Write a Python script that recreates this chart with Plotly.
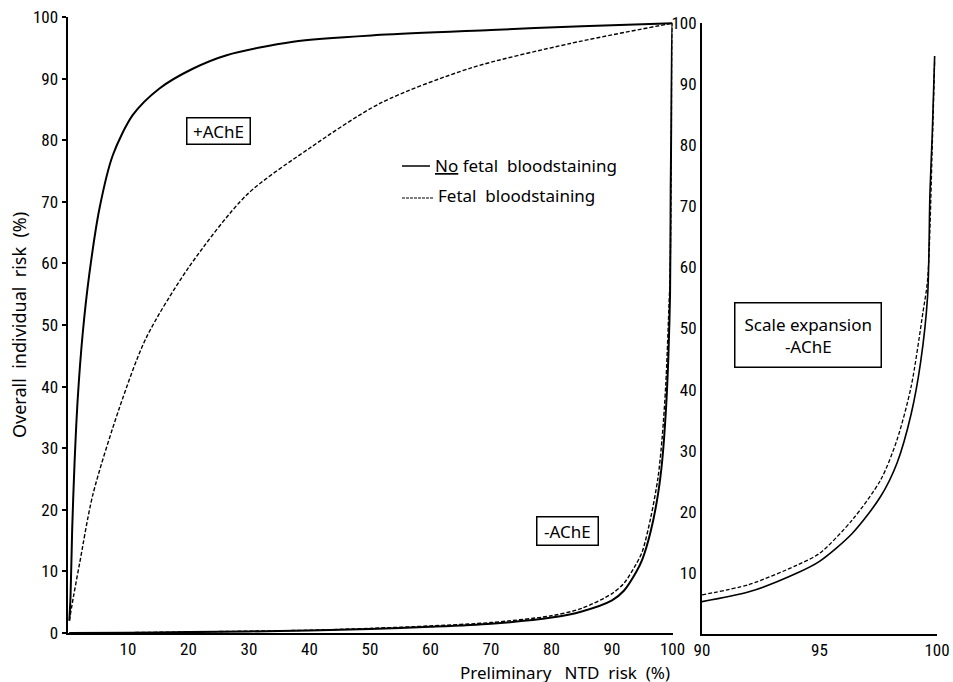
import plotly.graph_objects as go

W, H = 953, 682          # browser window == figure size (page margin removed below)

# ---------------- data ----------------
# +AChE, no fetal bloodstaining (solid)
pos_nofbs_x = [0.3, 0.5, 0.77, 1.16, 1.7, 2.5, 3.6, 5.3, 7.5, 10.8, 15.2, 20.7, 26.3, 37.3, 51.7, 70, 85, 100]
pos_nofbs_y = [2, 5.9, 16.7, 27.5, 38.2, 48.5, 58.2, 69.0, 77.6, 84.1, 88.4, 91.6, 93.8, 96.0, 97.1, 97.9, 98.5, 99]

# +AChE, fetal bloodstaining (dashed)
pos_fbs_x = [0.3, 1.0, 2.0, 4.2, 8.6, 13.0, 20, 29.6, 40, 51.7, 66.6, 83.1, 100]
pos_fbs_y = [2, 6, 11.3, 22.5, 36.6, 47.9, 59.3, 71.1, 78.7, 86.0, 91.7, 95.7, 99]

# -AChE, no fetal bloodstaining (solid)
neg_nofbs_x = [0.3, 10, 20, 30, 40, 50, 60, 70, 80, 85, 90, 92, 94, 95, 96.4, 97.6, 98.3, 98.9, 99.3, 99.6, 99.7, 99.8, 99.9, 100]
neg_nofbs_y = [0, 0.05, 0.15, 0.25, 0.4, 0.65, 1.0, 1.5, 2.5, 3.5, 5.3, 6.9, 9.9, 11.9, 16.5, 22.5, 28, 36, 44.4, 55.3, 72.2, 82, 94.6, 99]

# -AChE, fetal bloodstaining (dashed)
neg_fbs_x = [0.3, 10, 20, 30, 40, 50, 60, 70, 80, 85, 90, 92, 94, 95, 96.4, 97.6, 98.3, 98.9, 99.4, 99.6, 99.8, 99.9, 100]
neg_fbs_y = [0, 0.06, 0.17, 0.3, 0.45, 0.75, 1.15, 1.7, 2.8, 4.0, 6.4, 8.1, 11.2, 13.2, 18.7, 25.2, 31.8, 40.5, 52.6, 58, 80, 94, 99]

main_xticks = [10, 20, 30, 40, 50, 60, 70, 80, 90, 100]
main_yticks = [0, 10, 20, 30, 40, 50, 60, 70, 80, 90, 100]
exp_xticks = [90, 95, 100]
exp_yticks = [10, 20, 30, 40, 50, 60, 70, 80, 90, 100]
exp_xmax = 99.9

# ---------------- styling ----------------
TICKFONT = "Liberation Sans Narrow, Roboto Condensed, DejaVu Sans Condensed, Noto Sans"
TEXTFONT = "Noto Sans, DejaVu Sans, sans-serif"
SOLID = dict(color="black", width=2, shape="spline", smoothing=0.8)
DASHED = dict(color="black", width=1.4, dash="4px,2px", shape="spline", smoothing=0.8)


def px_x(p):
    """screen pixel -> paper fraction"""
    return p / W


def px_y(p):
    return 1 - p / H


fig = go.Figure()

# main panel
fig.add_trace(go.Scatter(x=pos_nofbs_x, y=pos_nofbs_y, mode="lines", line=SOLID, xaxis="x", yaxis="y"))
fig.add_trace(go.Scatter(x=pos_fbs_x, y=pos_fbs_y, mode="lines", line=DASHED, xaxis="x", yaxis="y"))
fig.add_trace(go.Scatter(x=neg_nofbs_x, y=neg_nofbs_y, mode="lines", line=SOLID, xaxis="x", yaxis="y"))
fig.add_trace(go.Scatter(x=neg_fbs_x, y=neg_fbs_y, mode="lines", line=DASHED, xaxis="x", yaxis="y"))

# expanded panel (-AChE, 90-100)
ex_s = [(a, b) for a, b in zip(neg_nofbs_x, neg_nofbs_y) if 90 <= a <= exp_xmax]
ex_d = [(a, b) for a, b in zip(neg_fbs_x, neg_fbs_y) if 90 <= a <= exp_xmax]
fig.add_trace(go.Scatter(x=[p[0] for p in ex_s], y=[p[1] for p in ex_s], mode="lines",
                         line=dict(color="black", width=1.6, shape="spline", smoothing=0.8),
                         xaxis="x2", yaxis="y2"))
fig.add_trace(go.Scatter(x=[p[0] for p in ex_d], y=[p[1] for p in ex_d], mode="lines",
                         line=dict(color="black", width=1.3, dash="4px,2px", shape="spline", smoothing=0.8),
                         xaxis="x2", yaxis="y2"))

axis_common = dict(showgrid=False, zeroline=False, showline=True, linecolor="black",
                   linewidth=2, tickfont=dict(family=TICKFONT, size=17, color="black"),
                   color="black", automargin=False, ticklabeloverflow="allow")

fig.update_layout(
    width=W, height=H,
    margin=dict(l=0, r=0, t=0, b=0, autoexpand=False),
    paper_bgcolor="white", plot_bgcolor="white",
    showlegend=False,
    font=dict(family=TEXTFONT, color="black"),
    xaxis=dict(axis_common, domain=[px_x(67.5), px_x(672.5)], range=[0, 100],
               tickvals=main_xticks, ticks="", ticklen=0, ticklabelstandoff=0, anchor="y"),
    yaxis=dict(axis_common, domain=[px_y(633), px_y(17)], range=[0, 100],
               tickvals=main_yticks, ticks="outside", ticklen=4, tickwidth=1.5,
               ticklabelstandoff=0, anchor="x"),
    xaxis2=dict(axis_common, domain=[px_x(702), px_x(937)], range=[90, 100],
                tickvals=exp_xticks, ticks="", ticklen=0, ticklabelstandoff=0, anchor="y2"),
    yaxis2=dict(axis_common, domain=[px_y(634), px_y(23)], range=[0, 100],
                tickvals=exp_yticks, ticks="", ticklen=0, ticklabelstandoff=0, anchor="x2"),
)

title_font = dict(family=TEXTFONT, size=17, color="black")
box_font = dict(family=TEXTFONT, size=17, color="black")
annotations = [
    dict(text="Overall  individual  risk  (%)", x=px_x(19), y=px_y(325), textangle=-90,
         font=dict(family=TEXTFONT, size=18, color="black")),
    dict(text="Preliminary   NTD  risk  (%)", x=px_x(565), y=px_y(672), font=title_font),
    dict(text=" +AChE ", x=px_x(218), y=px_y(131), font=box_font,
         bordercolor="black", borderwidth=1.5, borderpad=1, bgcolor="white"),
    dict(text=" -AChE ", x=px_x(567), y=px_y(531), font=box_font,
         bordercolor="black", borderwidth=1.5, borderpad=2, bgcolor="white"),
    dict(text="Scale expansion<br>-AChE", x=px_x(808), y=px_y(335), font=box_font,
         bordercolor="black", borderwidth=1.5, borderpad=9, bgcolor="white"),
    dict(text="<u>No</u> fetal  bloodstaining", x=px_x(433), y=px_y(165), xanchor="left",
         font=box_font),
    dict(text="Fetal  bloodstaining", x=px_x(436), y=px_y(196), xanchor="left",
         font=box_font),
]
for a in annotations:
    a.setdefault("xref", "paper")
    a.setdefault("yref", "paper")
    a.setdefault("showarrow", False)
    a.setdefault("xanchor", "center")
    a.setdefault("yanchor", "middle")
fig.update_layout(annotations=annotations)

# legend swatches
fig.add_shape(type="line", xref="paper", yref="paper", x0=px_x(402), x1=px_x(430),
              y0=px_y(166), y1=px_y(166), line=dict(color="black", width=1.5))
fig.add_shape(type="line", xref="paper", yref="paper", x0=px_x(402), x1=px_x(434),
              y0=px_y(198), y1=px_y(198), line=dict(color="black", width=1.2, dash="3px,1px"))

fig.write_html(
    "out.html",
    config={"displayModeBar": False},
    post_script="document.body.style.margin='0';document.body.style.overflow='hidden';",
)
